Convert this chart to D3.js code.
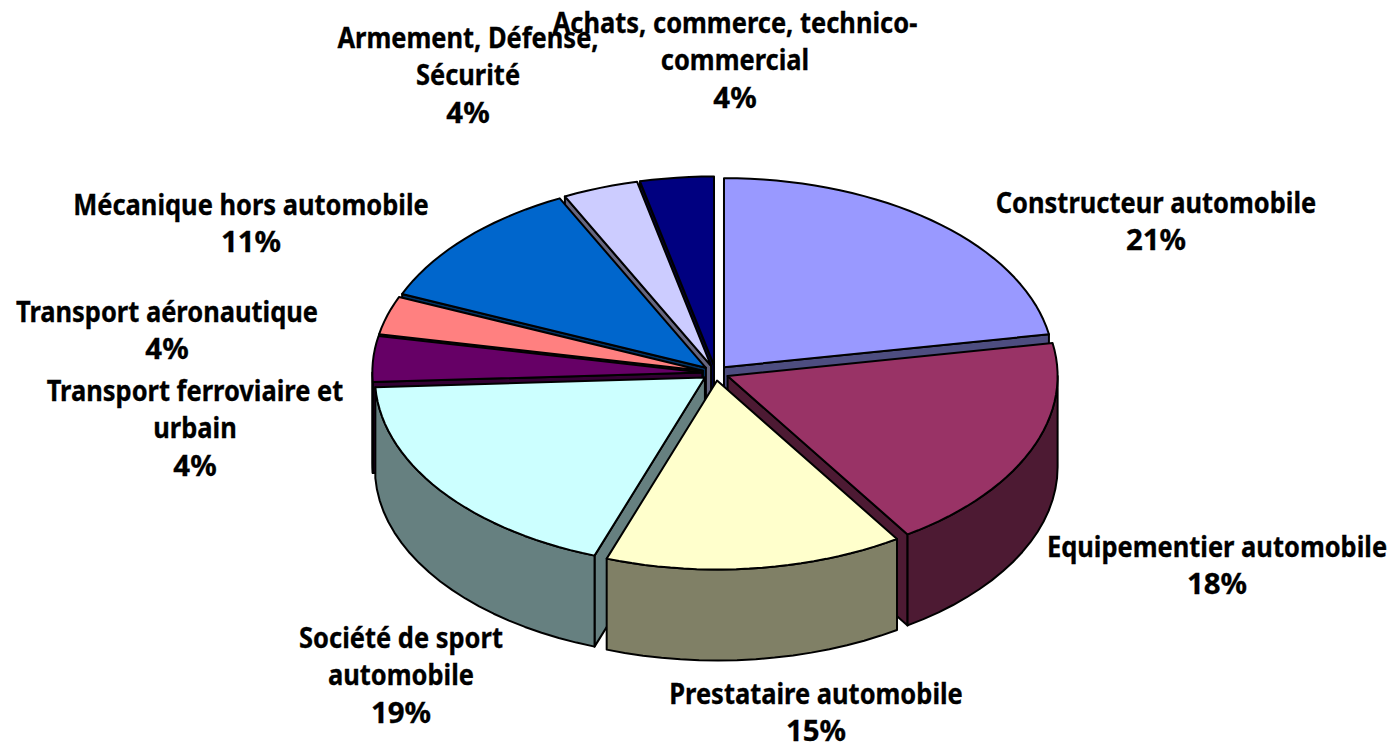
<!DOCTYPE html>
<html><head><meta charset="utf-8">
<script src="https://cdn.jsdelivr.net/npm/d3@7/dist/d3.min.js"></script>
<style>
html,body{margin:0;padding:0;background:#fff;overflow:hidden}
text{font-family:"Noto Sans","Open Sans",sans-serif;font-weight:bold;font-size:28px;fill:#000;stroke:#000;stroke-width:.3px;text-anchor:middle;dominant-baseline:central}
</style></head><body>
<svg id="c" width="1388" height="743"></svg>
<script>
const categories=["Constructeur automobile","Equipementier automobile","Prestataire automobile","Société de sport automobile","Transport ferroviaire et urbain","Transport aéronautique","Mécanique hors automobile","Armement, Défense, Sécurité","Achats, commerce, technico-commercial"];
const sliceValues=[22.2,18.6,14.6,18.75,3.9,3.3,11.3,3.7,3.6];
const percentLabels=["21%","18%","15%","19%","4%","4%","11%","4%","4%"];
const topColors=["#9999FF","#993366","#FFFFCC","#CCFFFF","#660066","#FF8080","#0066CC","#CCCCFF","#000080"];
const labelLines=[["Constructeur automobile"],["Equipementier automobile"],["Prestataire automobile"],["Société de sport","automobile"],["Transport ferroviaire et","urbain"],["Transport aéronautique"],["Mécanique hors automobile"],["Armement, Défense,","Sécurité"],["Achats, commerce, technico-","commercial"]];
const labelAnchors=[[1156,202],[1217,546],[816,693],[401,637],[195,390],[167,311],[251,204],[468,37],[735,22]];

const cx=715.5,cy=373,rx=330,ry=189,depth=91,explode=.04,lineStep=37.2,wordScale=.91,percentScale=1.05;
const x=d3.scaleLinear().domain([-1,1]).range([cx-rx,cx+rx]);
const y=d3.scaleLinear().domain([-1,1]).range([cy-ry,cy+ry]);
const line=d3.line().x(p=>x(p[0])).y(p=>y(p[1])+(p[2]||0));
const pie=d3.pie().value(d=>d).sort(null)(sliceValues);
const svg=d3.select("#c");
const dark=c=>{const r=d3.rgb(c);return d3.rgb(r.r/2,r.g/2,r.b/2).formatHex();};
const pt=(a,ox,oy,dz=0)=>[ox+Math.sin(a),oy-Math.cos(a),dz];
function arcPts(a0,a1,ox,oy,dz,n){const s=[];for(let i=0;i<=n;i++){s.push(pt(a0+(a1-a0)*i/n,ox,oy,dz));}return s;}
const slices=pie.map((p,i)=>{const m=(p.startAngle+p.endAngle)/2;return {i,a0:p.startAngle,a1:p.endAngle,m,ox:Math.sin(m)*explode,oy:-Math.cos(m)*explode};});
slices.sort((a,b)=>(-Math.cos(a.m))-(-Math.cos(b.m)));
const style=(sel,f)=>sel.attr("fill",f).attr("stroke","#000").attr("stroke-width",2).attr("stroke-linejoin","round");
slices.forEach(s=>{
  const g=svg.append("g"),side=dark(topColors[s.i]),A=[s.ox,s.oy,0],Ad=[s.ox,s.oy,depth];
  if(Math.sin(s.a0)<0){style(g.append("path").attr("d",line([A,pt(s.a0,s.ox,s.oy),pt(s.a0,s.ox,s.oy,depth),Ad])+"Z"),side);}
  if(Math.sin(s.a1)>0){style(g.append("path").attr("d",line([A,pt(s.a1,s.ox,s.oy),pt(s.a1,s.ox,s.oy,depth),Ad])+"Z"),side);}
  const w0=Math.max(s.a0,Math.PI/2),w1=Math.min(s.a1,1.5*Math.PI);
  if(w1>w0){
    const n=Math.max(2,Math.ceil((w1-w0)/.06));
    const pts=arcPts(w0,w1,s.ox,s.oy,0,n).concat(arcPts(w1,w0,s.ox,s.oy,depth,n));
    style(g.append("path").attr("d",line(pts)+"Z"),side);
  }
  const n=Math.max(3,Math.ceil((s.a1-s.a0)/.04));
  style(g.append("path").attr("d",line([A].concat(arcPts(s.a0,s.a1,s.ox,s.oy,0,n)))+"Z"),topColors[s.i]);
});
labelLines.forEach((ls,i)=>{
  const all=ls.concat(percentLabels[i]);
  all.forEach((t,k)=>{
    const sx=k===all.length-1?percentScale:wordScale;
    svg.append("text").attr("transform",`translate(${labelAnchors[i][0]},${labelAnchors[i][1]+k*lineStep}) scale(${sx},1)`).text(t);
  });
});
</script></body></html>
